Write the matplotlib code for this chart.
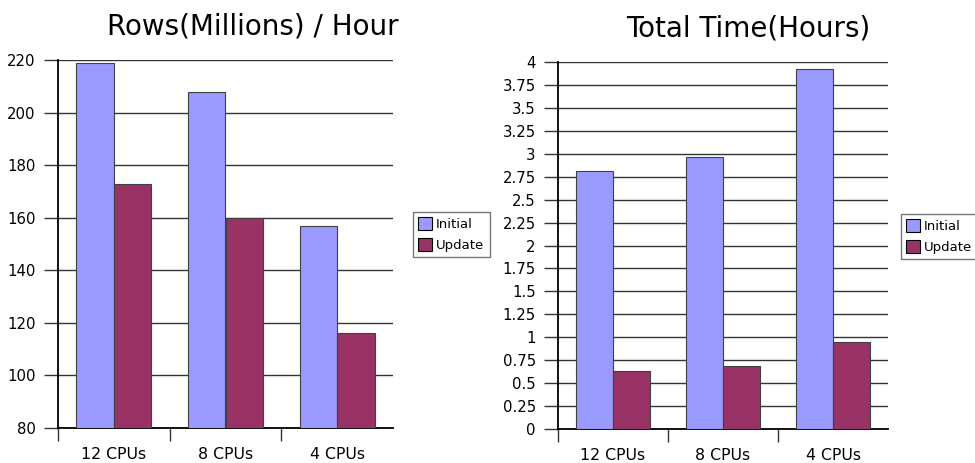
import matplotlib
matplotlib.use("Agg")
import matplotlib.pyplot as plt
import numpy as np

plt.rcParams['font.family'] = ['DejaVu Sans']

categories = ["12 CPUs", "8 CPUs", "4 CPUs"]
series_names = ["Initial", "Update"]
rows_initial = [219, 208, 157]
rows_update = [173, 160, 116]
time_initial = [2.81, 2.96, 3.92]
time_update = [0.63, 0.69, 0.95]

rows_ticks = [80, 100, 120, 140, 160, 180, 200, 220]
time_ticks = [0, 0.25, 0.5, 0.75, 1, 1.25, 1.5, 1.75, 2, 2.25, 2.5, 2.75, 3, 3.25, 3.5, 3.75, 4]
time_labels = ["0", "0.25", "0.5", "0.75", "1", "1.25", "1.5", "1.75", "2", "2.25", "2.5",
               "2.75", "3", "3.25", "3.5", "3.75", "4"]

C_INIT = "#9999FF"
C_UPD = "#993366"

W, H = 975, 463
fig = plt.figure(figsize=(W / 100, H / 100), dpi=100)


def px_axes(x0, y0, x1, y1):
    return fig.add_axes([x0 / W, (H - y1) / H, (x1 - x0) / W, (y1 - y0) / H])


def draw(ax, init, upd, ticks, labels, ylim, title, title_x, title_y, leg_pos):
    x = np.arange(len(categories))
    bw = 0.336
    ax.bar(x - bw / 2, np.array(init) - ylim[0], bw, bottom=ylim[0], color=C_INIT,
           edgecolor="#404040", linewidth=0.8, label=series_names[0], zorder=3)
    ax.bar(x + bw / 2, np.array(upd) - ylim[0], bw, bottom=ylim[0], color=C_UPD,
           edgecolor="#404040", linewidth=0.8, label=series_names[1], zorder=3)
    ax.set_xlim(-0.5, 2.5)
    ax.set_ylim(*ylim)
    ax.set_yticks(ticks)
    ax.set_yticklabels(labels)
    ax.yaxis.grid(True, color="#333333", linewidth=1.0, zorder=0)
    ax.set_axisbelow(True)
    ax.set_xticks(x)
    ax.set_xticklabels(categories)
    ax.set_xticks([-0.5, 0.5, 1.5], minor=True)
    ax.tick_params(axis="x", which="major", length=0, pad=14, labelsize=11.3)
    ax.tick_params(axis="x", which="minor", length=9, width=1.0, color="#333333")
    ax.tick_params(axis="y", length=10, width=1.0, color="#333333", pad=6, labelsize=10.7)
    for s in ["top", "right"]:
        ax.spines[s].set_visible(False)
    ax.spines["left"].set_color("black")
    ax.spines["left"].set_linewidth(1.3)
    ax.spines["bottom"].set_color("black")
    ax.spines["bottom"].set_linewidth(1.3)
    fig.text(title_x / W, 1 - title_y / H, title, ha="center", va="baseline", fontsize=20)
    leg = ax.legend(loc="upper left", bbox_to_anchor=(leg_pos[0] / W, 1 - leg_pos[1] / H),
                    bbox_transform=fig.transFigure, fontsize=9.5, frameon=True, fancybox=False,
                    handlelength=1.05, handleheight=1.1, handletextpad=0.3, borderpad=0.4,
                    labelspacing=0.55, borderaxespad=0)
    leg.get_frame().set_edgecolor("#555555")
    leg.get_frame().set_linewidth(1.0)
    for p in leg.get_patches():
        p.set_edgecolor("black")


ax1 = px_axes(58, 60, 393, 428)
draw(ax1, rows_initial, rows_update, rows_ticks, [str(t) for t in rows_ticks], (80, 220),
     "Rows(Millions) / Hour", 253, 35, (413, 212))

ax2 = px_axes(558, 62, 888, 429)
draw(ax2, time_initial, time_update, time_ticks, time_labels, (0, 4),
     "Total Time(Hours)", 748, 36, (901, 214))

fig.savefig("out.png", dpi=100)
